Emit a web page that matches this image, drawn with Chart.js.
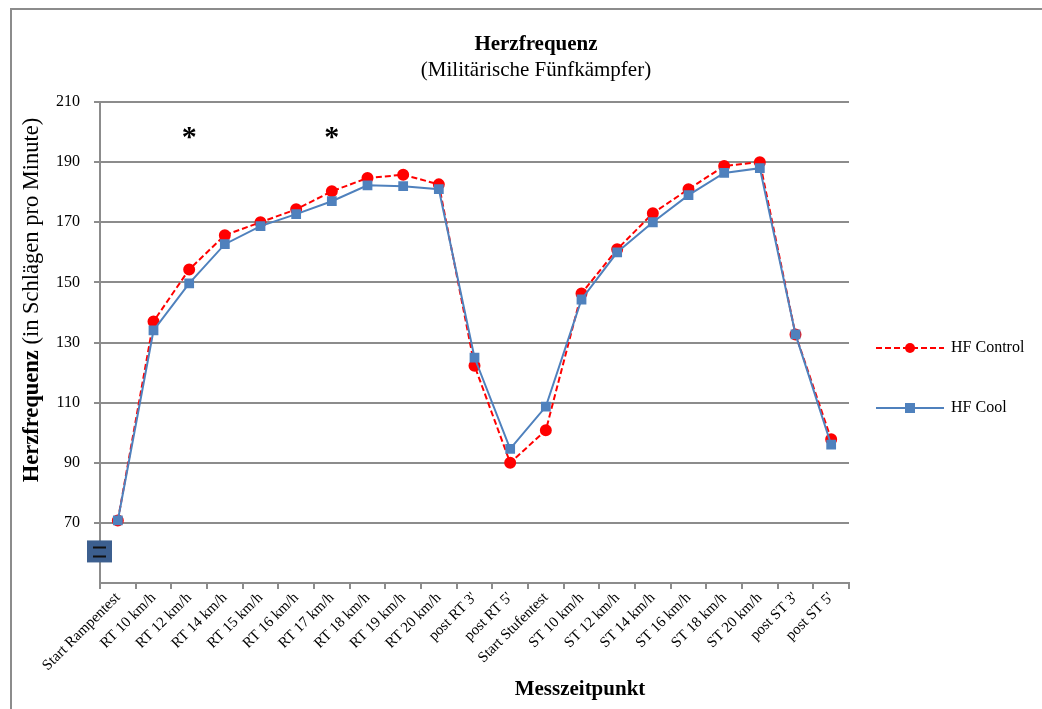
<!DOCTYPE html>
<html>
<head>
<meta charset="utf-8">
<script src="https://cdn.jsdelivr.net/npm/chart.js@4/dist/chart.umd.min.js"></script>
<style>
  html, body { margin: 0; padding: 0; background: #fff; }
  #wrap { position: relative; width: 1042px; height: 709px; }
  #frame { position: absolute; left: 10px; top: 8px; right: 0; bottom: 0;
           border-top: 2px solid #8c8c8c; border-left: 2px solid #8c8c8c; }
  canvas { position: absolute; left: 0; top: 0; }
</style>
</head>
<body>
<div id="wrap">
  <div id="frame"></div>
  <canvas id="chart" width="1042" height="709"></canvas>
</div>
<script>
// Heart rate chart (military pentathletes)

var categories = ['Start Rampentest', 'RT 10 km/h', 'RT 12 km/h', 'RT 14 km/h', 'RT 15 km/h',
    'RT 16 km/h', 'RT 17 km/h', 'RT 18 km/h', 'RT 19 km/h', 'RT 20 km/h', "post RT 3'",
    "post RT 5'", 'Start Stufentest', 'ST 10 km/h', 'ST 12 km/h', 'ST 14 km/h', 'ST 16 km/h',
    'ST 18 km/h', 'ST 20 km/h', "post ST 3'", "post ST 5'"];

var hfControl = [70.8, 137, 154.3, 165.7, 170, 174.3, 180.3, 184.7, 185.8, 182.6, 122.3,
    90, 100.8, 146.3, 161, 173, 181, 188.7, 190, 132.7, 97.8];

var hfCool = [70.8, 134, 149.7, 162.7, 168.7, 172.7, 177, 182.3, 182, 181, 125,
    94.6, 108.7, 144.3, 160, 170, 179, 186.4, 188, 132.7, 96];

var yTicks = [50, 70, 90, 110, 130, 150, 170, 190, 210];

// significance marks (asterisks) above these categories
var sigCategories = ['RT 12 km/h', 'RT 17 km/h'];
var sigLevel = 201;

var serif = '"Liberation Serif", "Times New Roman", serif';

// Draws titles, axis titles, legend and asterisks
var decorPlugin = {
    id: 'decor',
    afterDraw: function (chart) {
        var ctx = chart.ctx;
        var x = chart.scales.x, y = chart.scales.y;
        ctx.save();
        ctx.fillStyle = '#000';
        ctx.textBaseline = 'middle';
        ctx.textAlign = 'center';

        // title + subtitle
        ctx.font = 'bold 21px ' + serif;
        ctx.fillText('Herzfrequenz', 536, 45);
        ctx.font = '21px ' + serif;
        ctx.fillText('(Militärische Fünfkämpfer)', 536, 70);

        // x axis title
        ctx.font = 'bold 21px ' + serif;
        ctx.fillText('Messzeitpunkt', 580, 690);

        // y axis title (bold + normal part)
        ctx.translate(32, 300);
        ctx.rotate(-Math.PI / 2);
        var boldPart = 'Herzfrequenz', normPart = ' (in Schlägen pro Minute)';
        ctx.font = 'bold 22.5px ' + serif;
        var wb = ctx.measureText(boldPart).width;
        ctx.font = '22.5px ' + serif;
        var wn = ctx.measureText(normPart).width;
        ctx.textAlign = 'left';
        ctx.font = 'bold 22.5px ' + serif;
        ctx.fillText(boldPart, -(wb + wn) / 2, 0);
        ctx.font = '22.5px ' + serif;
        ctx.fillText(normPart, -(wb + wn) / 2 + wb, 0);
        ctx.setTransform(1, 0, 0, 1, 0, 0);

        // asterisks
        ctx.textAlign = 'center';
        ctx.font = 'bold 30px ' + serif;
        sigCategories.forEach(function (c) {
            ctx.fillText('*', x.getPixelForValue(categories.indexOf(c)), y.getPixelForValue(sigLevel) + 9);
        });

        // legend
        chart.data.datasets.forEach(function (ds, i) {
            var ly = 348 + i * 60;
            ctx.strokeStyle = ds.borderColor;
            ctx.lineWidth = 2;
            ctx.setLineDash(ds.borderDash || []);
            ctx.beginPath();
            ctx.moveTo(876, ly);
            ctx.lineTo(944, ly);
            ctx.stroke();
            ctx.setLineDash([]);
            ctx.fillStyle = ds.pointBackgroundColor;
            if (ds.pointStyle === 'rect') {
                ctx.fillRect(905, ly - 5, 10, 10);
            } else {
                ctx.beginPath();
                ctx.arc(910, ly, 5, 0, Math.PI * 2);
                ctx.fill();
            }
            ctx.fillStyle = '#000';
            ctx.textAlign = 'left';
            ctx.font = '16px ' + serif;
            ctx.fillText(ds.label, 951, ly);
        });

        // stray selection handle at the axis corner
        var bx = chart.chartArea.left, by = y.getPixelForValue(60.5);
        ctx.fillStyle = '#3c5f8f';
        ctx.fillRect(bx - 13, by - 11, 25, 22);
        ctx.strokeStyle = '#111';
        ctx.lineWidth = 2;
        ctx.beginPath();
        ctx.moveTo(bx - 7, by - 4); ctx.lineTo(bx + 6, by - 4);
        ctx.moveTo(bx - 7, by + 5); ctx.lineTo(bx + 6, by + 5);
        ctx.stroke();
        ctx.restore();
    }
};

var ctx = document.getElementById('chart').getContext('2d');
new Chart(ctx, {
    type: 'line',
    data: {
        labels: categories,
        datasets: [{
            label: 'HF Control',
            data: hfControl,
            borderColor: '#ff0000',
            backgroundColor: '#ff0000',
            pointBackgroundColor: '#ff0000',
            pointBorderColor: '#ff0000',
            borderWidth: 2,
            borderDash: [6, 3],
            pointStyle: 'circle',
            pointRadius: 5,
            order: 1
        }, {
            label: 'HF Cool',
            data: hfCool,
            borderColor: '#4f81bd',
            backgroundColor: '#4f81bd',
            pointBackgroundColor: '#4f81bd',
            pointBorderColor: '#4f81bd',
            borderWidth: 2,
            pointStyle: 'rect',
            pointRadius: 5.5,
            order: 0
        }]
    },
    options: {
        responsive: false,
        animation: false,
        layout: { padding: { left: 0, right: 193, top: 102, bottom: 0 } },
        plugins: {
            legend: { display: false },
            title: { display: false },
            tooltip: { enabled: false }
        },
        scales: {
            x: {
                offset: true,
                grid: { offset: true, drawOnChartArea: false, color: '#8c8c8c', lineWidth: 2, tickLength: 6 },
                border: { color: '#8c8c8c', width: 2 },
                ticks: {
                    color: '#000',
                    font: { family: serif, size: 15 },
                    minRotation: 45,
                    maxRotation: 45,
                    autoSkip: false,
                    padding: 0
                },
                afterFit: function (scale) { scale.height = 126; }
            },
            y: {
                min: 50,
                max: 210,
                afterBuildTicks: function (scale) {
                    scale.ticks = yTicks.map(function (v) { return { value: v }; });
                },
                grid: {
                    color: function (c) { return c.tick && c.tick.value === 50 ? 'rgba(0,0,0,0)' : '#8c8c8c'; },
                    lineWidth: 2,
                    tickLength: 6
                },
                border: { color: '#8c8c8c', width: 2 },
                ticks: {
                    color: '#000',
                    font: { family: serif, size: 16 },
                    padding: 14,
                    callback: function (v) { return v === 50 ? '' : v; }
                },
                afterFit: function (scale) { scale.width = 100; }
            }
        }
    },
    plugins: [decorPlugin]
});
</script>
</body>
</html>
